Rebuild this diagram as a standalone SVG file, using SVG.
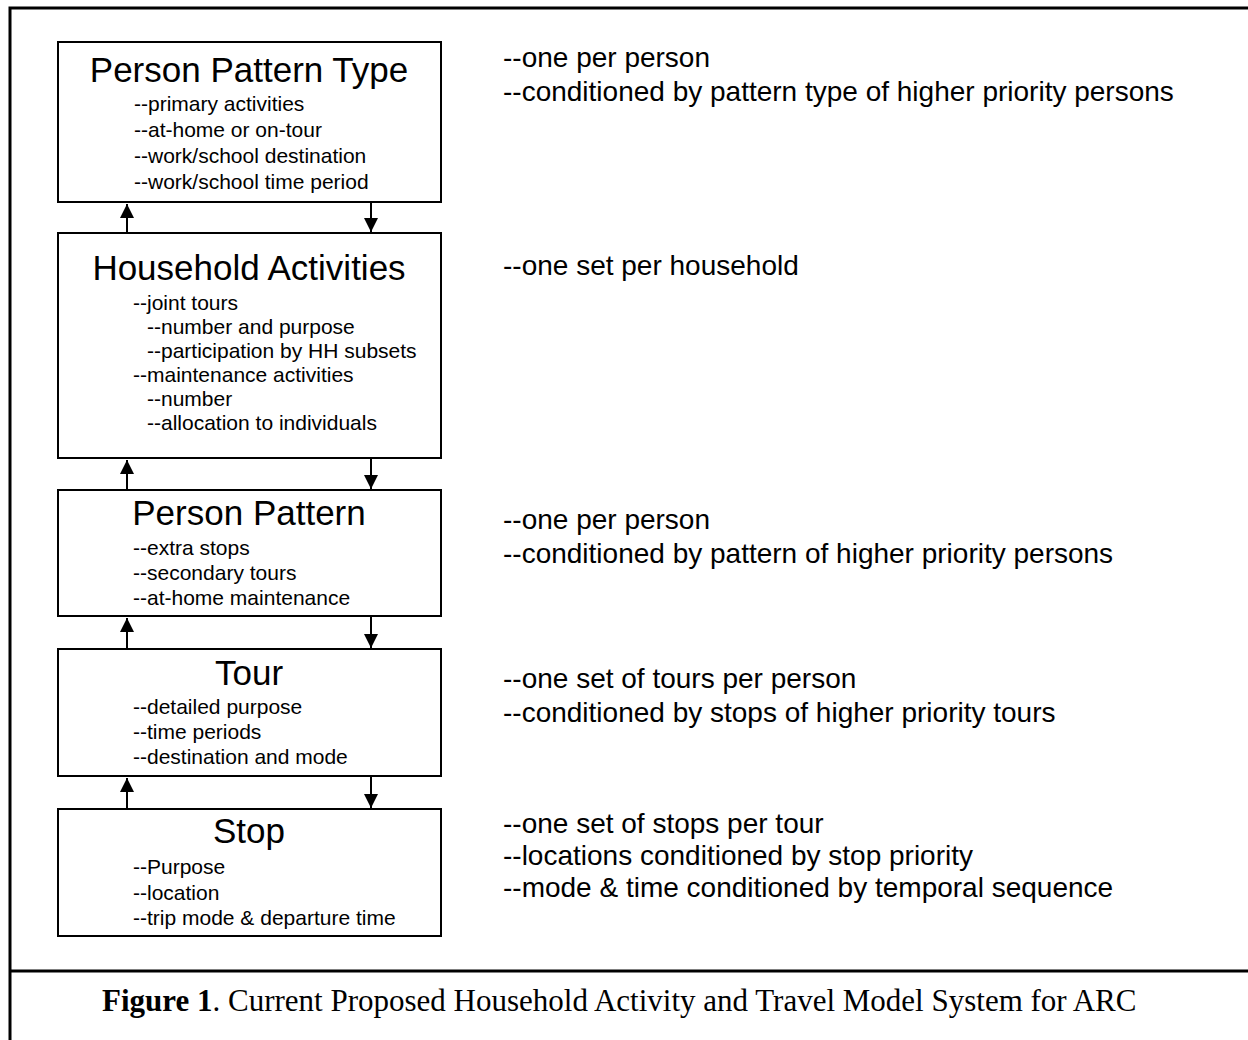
<svg xmlns="http://www.w3.org/2000/svg" width="1248" height="1040" viewBox="0 0 1248 1040">
<style>
.box{fill:#fff;stroke:#000;stroke-width:2}
.title{font-family:"Liberation Sans",Arial,sans-serif;font-size:35px;fill:#000;text-anchor:middle}
.sub{font-family:"Liberation Sans",Arial,sans-serif;font-size:21px;fill:#000}
.note{font-family:"Liberation Sans",Arial,sans-serif;font-size:28px;fill:#000}
.cap{font-family:"Liberation Serif","Times New Roman",serif;font-size:31px;fill:#000}
.conn{stroke:#000;stroke-width:2;fill:none}
.frame{stroke:#000;stroke-width:3;fill:none}
</style>
<defs>
<marker id="ah" viewBox="0 0 10 10" refX="10" refY="5" markerWidth="7" markerHeight="7" markerUnits="strokeWidth" orient="auto">
<path d="M0,0 L10,5 L0,10 Z" fill="#000"/>
</marker>
</defs>
<rect width="1248" height="1040" fill="#fff"/>
<g id="frame">
<path class="frame" d="M10,1040 V8 H1250"/>
<path class="frame" d="M10,971 H1250"/>
</g>
<g id="connectors">
<path class="conn" d="M127,233 V204" marker-end="url(#ah)"/>
<path class="conn" d="M371,202 V232" marker-end="url(#ah)"/>
<path class="conn" d="M127,490 V460" marker-end="url(#ah)"/>
<path class="conn" d="M371,458 V489" marker-end="url(#ah)"/>
<path class="conn" d="M127,649 V618" marker-end="url(#ah)"/>
<path class="conn" d="M371,616 V648" marker-end="url(#ah)"/>
<path class="conn" d="M127,809 V778" marker-end="url(#ah)"/>
<path class="conn" d="M371,776 V808" marker-end="url(#ah)"/>
</g>
<g id="node-person-pattern-type">
<rect class="box" x="58" y="42" width="383" height="160"/>
<text class="title" x="249" y="82">Person Pattern Type</text>
<text class="sub" x="134" y="111">--primary activities</text>
<text class="sub" x="134" y="137">--at-home or on-tour</text>
<text class="sub" x="134" y="163">--work/school destination</text>
<text class="sub" x="134" y="189">--work/school time period</text>
</g>
<g id="node-household-activities">
<rect class="box" x="58" y="233" width="383" height="225"/>
<text class="title" x="249" y="280">Household Activities</text>
<text class="sub" x="133" y="310">--joint tours</text>
<text class="sub" x="147" y="334">--number and purpose</text>
<text class="sub" x="147" y="358">--participation by HH subsets</text>
<text class="sub" x="133" y="382">--maintenance activities</text>
<text class="sub" x="147" y="406">--number</text>
<text class="sub" x="147" y="430">--allocation to individuals</text>
</g>
<g id="node-person-pattern">
<rect class="box" x="58" y="490" width="383" height="126"/>
<text class="title" x="249" y="525">Person Pattern</text>
<text class="sub" x="133" y="555">--extra stops</text>
<text class="sub" x="133" y="580">--secondary tours</text>
<text class="sub" x="133" y="605">--at-home maintenance</text>
</g>
<g id="node-tour">
<rect class="box" x="58" y="649" width="383" height="127"/>
<text class="title" x="249" y="685">Tour</text>
<text class="sub" x="133" y="714">--detailed purpose</text>
<text class="sub" x="133" y="739">--time periods</text>
<text class="sub" x="133" y="764">--destination and mode</text>
</g>
<g id="node-stop">
<rect class="box" x="58" y="809" width="383" height="127"/>
<text class="title" x="249" y="843">Stop</text>
<text class="sub" x="133" y="874">--Purpose</text>
<text class="sub" x="133" y="900">--location</text>
<text class="sub" x="133" y="925">--trip mode &amp; departure time</text>
</g>
<g id="notes">
<text class="note" x="503" y="67">--one per person</text>
<text class="note" x="503" y="101">--conditioned by pattern type of higher priority persons</text>
<text class="note" x="503" y="275">--one set per household</text>
<text class="note" x="503" y="529">--one per person</text>
<text class="note" x="503" y="563">--conditioned by pattern of higher priority persons</text>
<text class="note" x="503" y="688">--one set of tours per person</text>
<text class="note" x="503" y="722">--conditioned by stops of higher priority tours</text>
<text class="note" x="503" y="833">--one set of stops per tour</text>
<text class="note" x="503" y="865">--locations conditioned by stop priority</text>
<text class="note" x="503" y="897">--mode &amp; time conditioned by temporal sequence</text>
</g>
<g id="caption">
<text class="cap" x="102" y="1011"><tspan font-weight="bold">Figure 1</tspan>. Current Proposed Household Activity and Travel Model System for ARC</text>
</g>
</svg>
